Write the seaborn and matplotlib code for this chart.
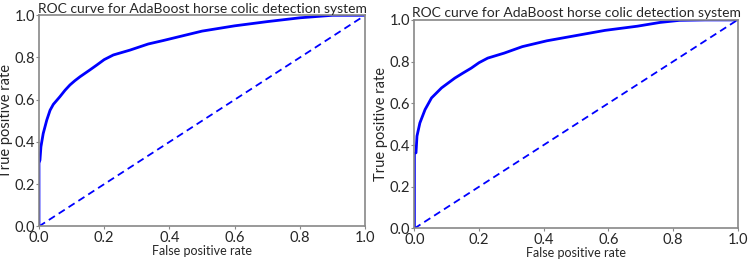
import matplotlib
matplotlib.use("Agg")
import matplotlib.pyplot as plt
import seaborn as sns
import pandas as pd

sns.set_style("white")
plt.rcParams['font.family'] = ['Lato', 'DejaVu Sans']

title = "ROC curve for AdaBoost horse colic detection system"
xlabel = "False positive rate"
ylabel = "True positive rate"
ticks = [0.0, 0.2, 0.4, 0.6, 0.8, 1.0]

fpr_left = [0.0, 0.0, 0.003, 0.006, 0.013, 0.024, 0.034, 0.044, 0.064, 0.08, 0.095, 0.11,
            0.126, 0.156, 0.177, 0.20, 0.228, 0.279, 0.335, 0.38, 0.42, 0.50, 0.60, 0.70,
            0.80, 0.90, 1.0]
tpr_left = [0.0, 0.30, 0.314, 0.377, 0.44, 0.504, 0.55, 0.578, 0.614, 0.645, 0.67, 0.69,
            0.709, 0.741, 0.764, 0.79, 0.812, 0.835, 0.864, 0.88, 0.895, 0.925, 0.95, 0.97,
            0.988, 1.0, 1.0]

fpr_right = [0.0, 0.0, 0.005, 0.008, 0.017, 0.033, 0.053, 0.084, 0.125, 0.15, 0.176,
             0.20, 0.227, 0.278, 0.334, 0.41, 0.50, 0.59, 0.69, 0.76, 0.82, 0.90, 1.0]
tpr_right = [0.0, 0.36, 0.363, 0.443, 0.506, 0.57, 0.626, 0.674, 0.721, 0.745, 0.769,
             0.795, 0.817, 0.841, 0.872, 0.90, 0.925, 0.95, 0.97, 0.988, 0.998, 1.0, 1.0]

diag = [0.0, 1.0]

fig = plt.figure(figsize=(7.48, 2.59), dpi=100)
ax1 = fig.add_axes([0.0521, 0.126, 0.436, 0.815])
ax2 = fig.add_axes([0.554, 0.118, 0.432, 0.805])

for ax, fpr, tpr in [(ax1, fpr_left, tpr_left), (ax2, fpr_right, tpr_right)]:
    df = pd.DataFrame({"fpr": fpr, "tpr": tpr})
    sns.lineplot(data=df, x="fpr", y="tpr", ax=ax, color="#0000ff", linewidth=2.0,
                 sort=False, estimator=None)
    dd = pd.DataFrame({"x": diag, "y": diag})
    sns.lineplot(data=dd, x="x", y="y", ax=ax, color="#0000ff", linewidth=1.3,
                 linestyle=(0, (4, 2.5)), estimator=None)
    ax.set_xlim(0, 1)
    ax.set_ylim(0, 1)
    ax.set_xticks(ticks)
    ax.set_yticks(ticks)
    ax.set_xticklabels([f"{t:.1f}" for t in ticks], fontsize=10.5)
    ax.set_yticklabels([f"{t:.1f}" for t in ticks], fontsize=10.5)
    ax.set_title(title, fontsize=10, pad=2)
    ax.set_xlabel(xlabel, fontsize=9, labelpad=0)
    ax.set_ylabel(ylabel, fontsize=10.5, labelpad=1)
    ax.tick_params(axis="both", length=2, width=0.8, color="#888888", pad=1,
                   bottom=True, left=True)
    for s in ax.spines.values():
        s.set_color("#888888")
        s.set_linewidth(1.2)

fig.savefig("out.png", dpi=100)
